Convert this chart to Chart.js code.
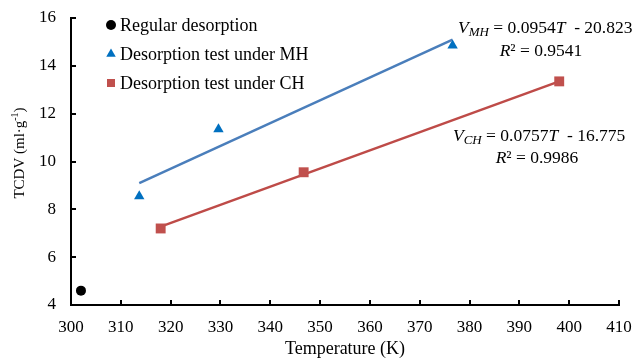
<!DOCTYPE html>
<html><head><meta charset="utf-8">
<script src="https://cdn.jsdelivr.net/npm/chart.js@4/dist/chart.umd.min.js"></script>
<style>html,body{margin:0;padding:0;background:#fff}#wrap{width:634px;height:360px}</style>
</head><body><div id="wrap"><canvas id="c" width="634" height="360"></canvas></div>
<script>
const seriesNames = ["Regular desorption", "Desorption test under MH", "Desorption test under CH"];
const regularT = [302];
const regularV = [4.6];
const mhT = [313.7, 329.6, 376.6];
const mhV = [8.55, 11.35, 14.85];
const chT = [318, 346.7, 398];
const chV = [7.2, 9.55, 13.35];
const trendMhT = [313.7, 376.6];
const trendMhV = [9.10, 15.10];
const trendChT = [318, 398];
const trendChV = [7.28, 13.35];
const xTicks = [300, 310, 320, 330, 340, 350, 360, 370, 380, 390, 400, 410];
const yTicks = [4, 6, 8, 10, 12, 14, 16];
const xTitle = "Temperature (K)";
const yTitleRuns = [["TCDV (ml·g", "n"], ["-1", "sup"], [")", "n"]];
const eqMH = [["V", "i"], ["MH", "is"], [" = 0.0954", "n"], ["T", "i"], ["  - 20.823", "n"]];
const r2MH = [["R", "i"], ["² = 0.9541", "n"]];
const eqCH = [["V", "i"], ["CH", "is"], [" = 0.0757", "n"], ["T", "i"], ["  - 16.775", "n"]];
const r2CH = [["R", "i"], ["² = 0.9986", "n"]];

const pts = (xs, ys) => xs.map((x, i) => ({x: x, y: ys[i]}));
const FONT = "'Liberation Serif','Times New Roman',serif";

const insideTicks = {
  id: 'insideTicks',
  afterDraw(chart) {
    const ctx = chart.ctx, a = chart.chartArea;
    const xs = chart.scales.x, ys = chart.scales.y;
    ctx.save();
    ctx.strokeStyle = '#000'; ctx.lineWidth = 2;
    xTicks.forEach(v => { if (v === xTicks[0]) return; const px = Math.round(xs.getPixelForValue(v));
      ctx.beginPath(); ctx.moveTo(px, a.bottom); ctx.lineTo(px, a.bottom - 5); ctx.stroke(); });
    yTicks.forEach(v => { if (v === yTicks[0]) return; const py = Math.round(ys.getPixelForValue(v));
      ctx.beginPath(); ctx.moveTo(a.left, py); ctx.lineTo(a.left + 5, py); ctx.stroke(); });
    ctx.restore();
  }
};

function drawRuns(ctx, runs, x, y, size, align) {
  const fonts = {
    i: `italic ${size}px ${FONT}`, n: `${size}px ${FONT}`,
    is: `italic ${Math.round(size*0.72)}px ${FONT}`, sup: `${Math.round(size*0.68)}px ${FONT}`
  };
  let total = 0;
  runs.forEach(r => { ctx.font = fonts[r[1]]; total += ctx.measureText(r[0]).width; });
  let cx = align === 'center' ? x - total / 2 : x;
  runs.forEach(r => {
    ctx.font = fonts[r[1]];
    const dy = r[1] === 'is' ? size * 0.28 : (r[1] === 'sup' ? -size * 0.3 : 0);
    ctx.fillText(r[0], cx, y + dy);
    cx += ctx.measureText(r[0]).width;
  });
}

const annotations = {
  id: 'annotations',
  afterDraw(chart) {
    const ctx = chart.ctx;
    ctx.save();
    ctx.fillStyle = '#000'; ctx.textBaseline = 'middle'; ctx.textAlign = 'left';
    drawRuns(ctx, eqMH, 458, 28, 17.5, 'left');
    drawRuns(ctx, r2MH, 541, 51, 17.5, 'center');
    drawRuns(ctx, eqCH, 453, 136, 17.5, 'left');
    drawRuns(ctx, r2CH, 537, 158, 17.5, 'center');
    // y axis title
    ctx.translate(20, 153);
    ctx.rotate(-Math.PI / 2);
    drawRuns(ctx, yTitleRuns, 0, 0, 15, 'center');
    ctx.restore();
  }
};

const legendBox = {
  id: 'legendBox',
  afterDraw(chart) {
    const ctx = chart.ctx;
    ctx.save();
    ctx.textBaseline = 'middle'; ctx.textAlign = 'left';
    ctx.font = `18px ${FONT}`;
    const rows = [25, 54, 83];
    const radii = [5, 5.5, 5.7];
    [0, 1, 2].forEach((di, i) => {
      const ds = chart.data.datasets[di];
      ctx.fillStyle = ds.backgroundColor; ctx.strokeStyle = ds.borderColor;
      Chart.helpers.drawPoint(ctx, {pointStyle: ds.pointStyle, radius: radii[i], rotation: 0, borderWidth: 0}, 111, rows[i]);
      ctx.fillStyle = '#000';
      ctx.fillText(ds.label, 120, rows[i] + 1);
    });
    ctx.restore();
  }
};

new Chart(document.getElementById('c'), {
  type: 'scatter',
  data: {
    datasets: [
      {label: seriesNames[0], data: pts(regularT, regularV), pointStyle: 'circle', pointRadius: 5, backgroundColor: '#000', borderColor: '#000', borderWidth: 0, order: 0},
      {label: seriesNames[1], data: pts(mhT, mhV), pointStyle: 'triangle', pointRadius: 6, backgroundColor: '#0070C0', borderColor: '#0070C0', borderWidth: 0, order: 0},
      {label: seriesNames[2], data: pts(chT, chV), pointStyle: 'rect', pointRadius: 7, backgroundColor: '#C0504D', borderColor: '#C0504D', borderWidth: 0, order: 0},
      {label: 'trend MH', data: pts(trendMhT, trendMhV), showLine: true, pointRadius: 0, borderColor: '#4A7EBB', borderWidth: 2.5, order: 1},
      {label: 'trend CH', data: pts(trendChT, trendChV), showLine: true, pointRadius: 0, borderColor: '#BE4B48', borderWidth: 2.5, order: 1}
    ]
  },
  options: {
    responsive: false, animation: false, devicePixelRatio: 1,
    layout: {padding: {top: 18, right: 15, left: 0, bottom: 0}},
    plugins: {legend: {display: false}, tooltip: {enabled: false}},
    scales: {
      x: {
        type: 'linear', min: 300, max: 410,
        afterBuildTicks: s => { s.ticks = xTicks.map(v => ({value: v})); },
        afterFit: s => { s.height = 55; s.paddingLeft = 0; s.paddingRight = 0; },
        grid: {display: false, drawTicks: false},
        border: {display: true, color: '#000', width: 2},
        ticks: {color: '#000', font: {family: FONT, size: 17}, padding: 12, maxRotation: 0},
        title: {display: true, text: xTitle, color: '#000', font: {family: FONT, size: 18}, padding: {top: 0, bottom: 0}}
      },
      y: {
        type: 'linear', min: 4, max: 16,
        afterBuildTicks: s => { s.ticks = yTicks.map(v => ({value: v})); },
        afterFit: s => { s.width = 71; s.paddingTop = 0; s.paddingBottom = 0; },
        grid: {display: false, drawTicks: false},
        border: {display: true, color: '#000', width: 2},
        ticks: {color: '#000', font: {family: FONT, size: 17}, padding: 15},
        title: {display: false}
      }
    }
  },
  plugins: [insideTicks, annotations, legendBox]
});
</script>
</body></html>
